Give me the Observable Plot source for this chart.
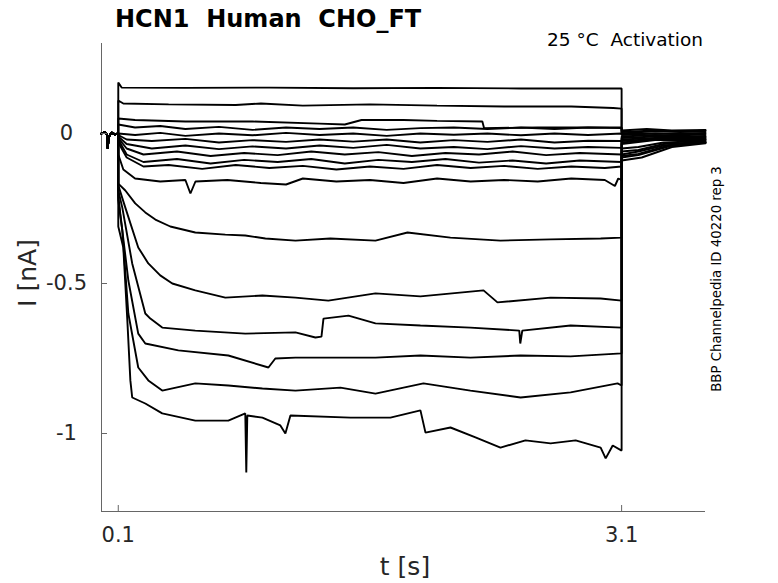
<!DOCTYPE html>
<html><head><meta charset="utf-8">
<script src="https://cdn.jsdelivr.net/npm/d3@7"></script>
<script src="https://cdn.jsdelivr.net/npm/@observablehq/plot@0.6"></script>
<style>
body{margin:0;background:#fff;}
#wrap{position:relative;width:778px;height:583px;font-family:"DejaVu Sans",sans-serif;overflow:hidden;}
#wrap svg{position:absolute;left:0;top:0;}
.t{position:absolute;white-space:pre;line-height:1;color:#000;z-index:2;}
</style></head><body>
<div id="wrap">
  <div class="t" id="title" style="left:115px;top:6.7px;font-size:24px;font-weight:bold;">HCN1  Human  CHO_FT</div>
  <div class="t" id="sub" style="right:75px;top:31.3px;font-size:18.5px;">25 °C  Activation</div>
  <div class="t" id="side" style="left:717px;top:279px;font-size:13.3px;transform:translate(-50%,-50%) rotate(-90deg);">BBP Channelpedia ID 40220 rep 3</div>
  <div class="t" id="ylab" style="left:26.6px;top:273px;font-size:25px;color:#262626;transform:translate(-50%,-50%) rotate(-90deg);">I [nA]</div>
  <div class="t" id="xlab" style="left:405px;top:553.9px;font-size:25px;color:#262626;transform:translateX(-50%);">t [s]</div>
</div>
<script>
// axis setup
const xDomain = [0, 3.6];
const yDomain = [-1.26, 0.3];
const xTicks = [0.1, 3.1];
const yTicks = [-1, -0.5, 0];

// holding segment before the step (all sweeps overlap)
const preStep = [[0,0],[0.02,0.005],[0.033,-0.005],[0.037,-0.05],[0.043,-0.012],[0.06,0.003],[0.08,-0.003],[0.1,0]];

// test pulses (t [s], I [nA])
const step01 = [[0.1,0.17],[0.12,0.153],[0.5,0.152],[1.0,0.153],[1.5,0.151],[2.0,0.152],[2.5,0.15],[3.0,0.15],[3.1,0.15]];
const step02 = [[0.1,0.11],[0.13,0.1],[0.4,0.097],[0.8,0.095],[0.95,0.1],[1.2,0.093],[1.6,0.097],[2.0,0.093],[2.4,0.09],[2.8,0.09],[3.05,0.085],[3.1,0.083]];
const step03 = [[0.1,0.05],[0.2,0.045],[0.5,0.04],[0.9,0.04],[1.3,0.033],[1.45,0.03],[1.55,0.045],[1.8,0.045],[2.0,0.042],[2.27,0.04],[2.28,0.018],[2.6,0.02],[3.0,0.02],[3.1,0.02]];
const step04 = [[0.1,0.03],[0.2,0.02],[0.35,0.025],[0.5,0.015],[0.7,0.022],[0.9,0.012],[1.1,0.02],[1.3,0.015],[1.5,0.02],[1.7,0.012],[1.9,0.018],[2.1,0.02],[2.3,0.015],[2.5,0.02],[2.7,0.015],[2.9,0.02],[3.1,0.018]];
const step05 = [[0.1,0],[0.2,-0.005],[0.35,0.002],[0.5,-0.008],[0.7,0],[0.9,-0.006],[1.1,0.002],[1.3,-0.005],[1.5,0],[1.7,-0.008],[1.9,0],[2.1,-0.004],[2.3,0],[2.5,-0.006],[2.7,0],[2.9,-0.005],[3.1,0]];
const step06 = [[0.1,-0.005],[0.15,-0.02],[0.3,-0.025],[0.5,-0.018],[0.7,-0.03],[0.9,-0.022],[1.1,-0.028],[1.3,-0.02],[1.5,-0.027],[1.7,-0.02],[1.9,-0.03],[2.1,-0.022],[2.3,-0.028],[2.5,-0.02],[2.7,-0.03],[2.9,-0.024],[3.1,-0.025]];
const step07 = [[0.1,-0.01],[0.15,-0.035],[0.3,-0.05],[0.5,-0.04],[0.7,-0.052],[0.9,-0.043],[1.1,-0.05],[1.3,-0.04],[1.5,-0.048],[1.7,-0.038],[1.9,-0.05],[2.1,-0.045],[2.3,-0.052],[2.5,-0.042],[2.7,-0.05],[2.9,-0.045],[3.1,-0.048]];
const step08 = [[0.1,-0.015],[0.15,-0.05],[0.25,-0.07],[0.45,-0.06],[0.65,-0.075],[0.85,-0.065],[1.05,-0.072],[1.25,-0.06],[1.45,-0.07],[1.65,-0.062],[1.85,-0.075],[2.05,-0.065],[2.25,-0.07],[2.45,-0.06],[2.65,-0.072],[2.85,-0.065],[3.1,-0.07]];
const step09 = [[0.1,-0.02],[0.15,-0.07],[0.25,-0.095],[0.45,-0.085],[0.65,-0.1],[0.85,-0.088],[1.05,-0.095],[1.25,-0.085],[1.45,-0.1],[1.65,-0.088],[1.85,-0.095],[2.05,-0.085],[2.25,-0.097],[2.45,-0.09],[2.65,-0.1],[2.85,-0.09],[3.1,-0.095]];
const step10 = [[0.1,-0.03],[0.15,-0.08],[0.25,-0.11],[0.4,-0.105],[0.6,-0.118],[0.8,-0.105],[1.0,-0.115],[1.2,-0.108],[1.4,-0.12],[1.6,-0.11],[1.8,-0.118],[2.0,-0.105],[2.2,-0.115],[2.4,-0.108],[2.6,-0.118],[2.8,-0.11],[3.0,-0.115],[3.1,-0.11]];
const step11 = [[0.1,-0.07],[0.13,-0.12],[0.2,-0.15],[0.35,-0.16],[0.5,-0.155],[0.53,-0.2],[0.56,-0.16],[0.75,-0.155],[0.95,-0.165],[1.1,-0.17],[1.2,-0.15],[1.4,-0.16],[1.6,-0.155],[1.8,-0.165],[2.0,-0.15],[2.2,-0.16],[2.4,-0.155],[2.6,-0.16],[2.8,-0.15],[3.0,-0.155],[3.06,-0.175],[3.08,-0.15],[3.1,-0.155]];
const step12 = [[0.1,-0.167],[0.142,-0.19],[0.201,-0.233],[0.261,-0.263],[0.321,-0.287],[0.41,-0.31],[0.559,-0.33],[0.738,-0.337],[0.857,-0.34],[0.977,-0.35],[1.156,-0.357],[1.364,-0.35],[1.633,-0.357],[1.824,-0.33],[2.08,-0.347],[2.378,-0.357],[2.677,-0.353],[2.975,-0.35],[3.1,-0.347]];
const step13 = [[0.1,-0.173],[0.142,-0.247],[0.219,-0.38],[0.279,-0.433],[0.35,-0.473],[0.422,-0.5],[0.559,-0.523],[0.738,-0.547],[0.959,-0.54],[1.156,-0.547],[1.352,-0.557],[1.633,-0.533],[1.901,-0.543],[2.277,-0.523],[2.36,-0.563],[2.677,-0.547],[2.975,-0.55],[3.1,-0.557]];
const step14 = [[0.1,-0.19],[0.124,-0.247],[0.183,-0.433],[0.261,-0.6],[0.291,-0.617],[0.362,-0.647],[0.559,-0.657],[0.857,-0.667],[1.156,-0.663],[1.275,-0.68],[1.311,-0.677],[1.323,-0.617],[1.472,-0.607],[1.633,-0.633],[1.901,-0.64],[2.199,-0.647],[2.49,-0.657],[2.496,-0.7],[2.508,-0.657],[2.796,-0.64],[3.1,-0.647]];
const step15 = [[0.1,-0.207],[0.112,-0.267],[0.16,-0.49],[0.219,-0.667],[0.261,-0.7],[0.458,-0.723],[0.756,-0.74],[0.995,-0.78],[1.036,-0.75],[1.156,-0.747],[1.633,-0.747],[1.901,-0.74],[2.199,-0.747],[2.498,-0.74],[2.796,-0.743],[3.1,-0.733]];
const step16 = [[0.1,-0.223],[0.124,-0.323],[0.16,-0.6],[0.219,-0.78],[0.279,-0.823],[0.362,-0.857],[0.559,-0.833],[0.756,-0.84],[0.959,-0.85],[1.156,-0.857],[1.424,-0.847],[1.633,-0.867],[1.919,-0.833],[2.199,-0.857],[2.498,-0.88],[2.796,-0.863],[3.076,-0.833],[3.1,-0.84]];
const step17 = [[0.1,-0.31],[0.13,-0.38],[0.154,-0.623],[0.172,-0.823],[0.183,-0.88],[0.261,-0.9],[0.362,-0.933],[0.559,-0.957],[0.756,-0.957],[0.857,-0.933],[0.863,-1.13],[0.869,-0.94],[0.959,-0.947],[1.066,-0.973],[1.096,-1.0],[1.126,-0.94],[1.484,-0.947],[1.722,-0.947],[1.901,-0.923],[1.931,-0.997],[2.08,-0.98],[2.229,-1.013],[2.378,-1.047],[2.527,-1.023],[2.677,-1.033],[2.826,-1.023],[2.975,-1.047],[3.005,-1.083],[3.047,-1.04],[3.1,-1.057]];

// tail currents after the pulse
const tail01 = [[3.1,0.01],[3.25,0.015],[3.4,0.01],[3.6,0.012]];
const tail02 = [[3.1,0.005],[3.3,0.01],[3.45,0.005],[3.6,0.01]];
const tail03 = [[3.1,0],[3.3,0.008],[3.6,0.005]];
const tail04 = [[3.1,0],[3.3,0],[3.6,0]];
const tail05 = [[3.1,-0.005],[3.3,0],[3.6,-0.005]];
const tail06 = [[3.1,-0.01],[3.3,-0.005],[3.6,-0.01]];
const tail07 = [[3.1,-0.015],[3.3,-0.01],[3.6,-0.012]];
const tail08 = [[3.1,-0.02],[3.3,-0.015],[3.6,-0.015]];
const tail09 = [[3.1,-0.025],[3.3,-0.018],[3.6,-0.018]];
const tail10 = [[3.1,-0.03],[3.3,-0.02],[3.6,-0.02]];
const tail11 = [[3.1,-0.035],[3.3,-0.022],[3.6,-0.022]];
const tail12 = [[3.1,-0.05],[3.2,-0.045],[3.35,-0.03],[3.6,-0.025]];
const tail13 = [[3.1,-0.06],[3.2,-0.055],[3.35,-0.035],[3.6,-0.028]];
const tail14 = [[3.1,-0.07],[3.2,-0.06],[3.35,-0.04],[3.6,-0.03]];
const tail15 = [[3.1,-0.075],[3.2,-0.068],[3.38,-0.04],[3.6,-0.03]];
const tail16 = [[3.1,-0.08],[3.2,-0.072],[3.4,-0.04],[3.6,-0.03]];
const tail17 = [[3.1,-0.09],[3.22,-0.08],[3.4,-0.045],[3.6,-0.033]];

const steps = [step01,step02,step03,step04,step05,step06,step07,step08,step09,step10,step11,step12,step13,step14,step15,step16,step17];
const tails = [tail01,tail02,tail03,tail04,tail05,tail06,tail07,tail08,tail09,tail10,tail11,tail12,tail13,tail14,tail15,tail16,tail17];

const rows = [];
steps.forEach((s, i) => {
  [...preStep, ...s, ...tails[i]].forEach(([t, I]) => rows.push({sweep: i + 1, t, I}));
});

const chart = Plot.plot({
  width: 778, height: 583,
  marginLeft: 101, marginRight: 73, marginTop: 43, marginBottom: 72,
  style: {fontFamily: "DejaVu Sans", background: "transparent"},
  x: {domain: xDomain},
  y: {domain: yDomain},
  marks: [
    Plot.ruleX([xDomain[0]], {stroke: "#666", strokeWidth: 1}),
    Plot.ruleY([yDomain[0]], {stroke: "#666", strokeWidth: 1}),
    Plot.line(rows, {x: "t", y: "I", z: "sweep", stroke: "#000", strokeWidth: 1.9, strokeLinejoin: "miter"}),
    Plot.axisX(xTicks, {anchor: "bottom", tickSize: -6, tickPadding: 22, fontSize: 21, stroke: "#666", fill: "#262626", label: null, tickFormat: d => d.toFixed(1)}),
    Plot.axisY(yTicks, {anchor: "left", tickSize: -6, tickPadding: 41, textAnchor: "middle", fontSize: 21, stroke: "#666", fill: "#262626", label: null, tickFormat: d => String(d)})
  ]
});
document.getElementById("wrap").appendChild(chart);
</script>
</body></html>
